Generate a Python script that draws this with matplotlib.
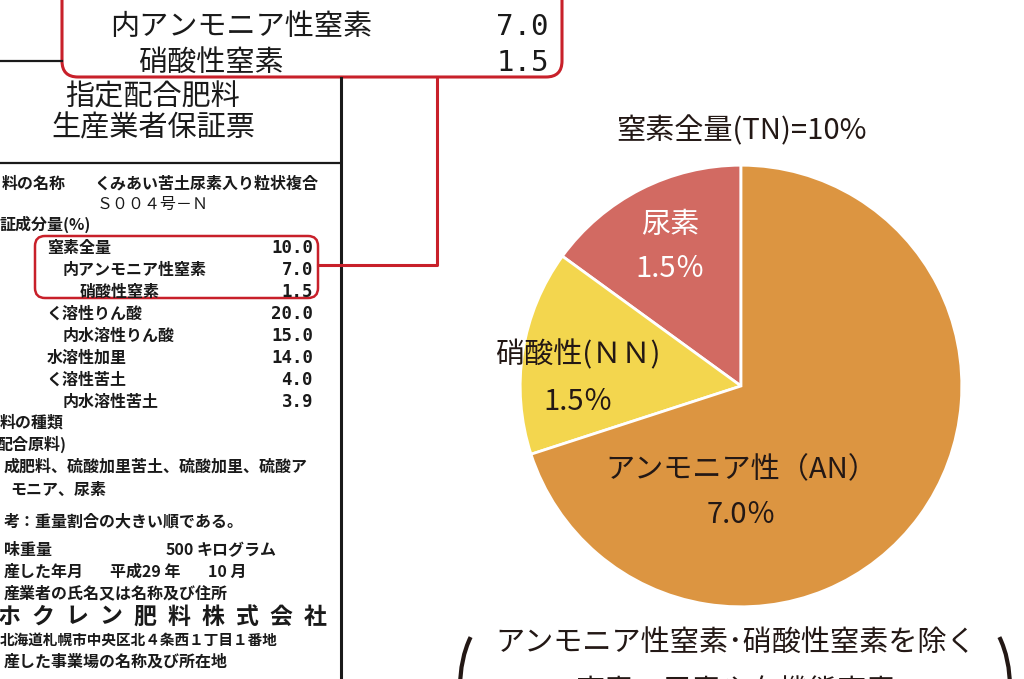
import matplotlib
matplotlib.use("Agg")
import matplotlib.pyplot as plt
from matplotlib.patches import FancyBboxPatch, Arc

plt.rcParams['font.family'] = ['Noto Sans CJK JP', 'DejaVu Sans']

# pie data (nitrogen forms, % of product)
pie_labels = ["尿素", "硝酸性(ＮＮ)", "アンモニア性（AN）"]
pie_values = [1.5, 1.5, 7.0]
pie_colors = ["#D26A62", "#F3D64E", "#DC9541"]
total_n = 10

# guarantee table (scanned document on the left)
nutrient_names = ["窒素全量", "内アンモニア性窒素", "硝酸性窒素", "く溶性りん酸",
                  "内水溶性りん酸", "水溶性加里", "く溶性苦土", "内水溶性苦土"]
nutrient_values = [10.0, 7.0, 1.5, 20.0, 15.0, 14.0, 4.0, 3.9]
nutrient_indent = [47, 63, 80, 47, 63, 47, 47, 63]

company = "ホクレン肥料株式会社"

RED = "#C8202A"
INK = "#231815"
DOC = "#1a1a1a"
MONO = "DejaVu Sans Mono"

fig = plt.figure(figsize=(10.24, 6.79), dpi=100)
ax = fig.add_axes([0, 0, 1, 1])
ax.set_xlim(0, 1024)
ax.set_ylim(679, 0)
ax.axis("off")

# ---- scanned document ----
ax.plot([0, 62], [61, 61], color=DOC, lw=1.6)
ax.plot([341, 341], [78, 679], color=DOC, lw=2.2)
ax.plot([0, 341], [163, 163], color=DOC, lw=1.6)

ax.text(153, 97, "指定配合肥料", fontsize=21, ha="center", va="center", color=DOC)
ax.text(153, 128, "生産業者保証票", fontsize=21, ha="center", va="center", color=DOC)

fs = 11.5
kw = dict(fontsize=fs, va="center", color=DOC, fontweight="bold")
ax.text(2, 184, "料の名称", **kw)
ax.text(95, 184, "くみあい苦土尿素入り粒状複合", **kw)
ax.text(97, 204, "Ｓ００４号－Ｎ", fontsize=fs, va="center", color=DOC)
ax.text(0, 224, "証成分量(%)", **kw)

row_y = 248
for name, val, x in zip(nutrient_names, nutrient_values, nutrient_indent):
    ax.text(x, row_y, name, **kw)
    ax.text(313, row_y, f"{val:.1f}", fontsize=12.5, va="center", ha="right",
            color=DOC, family=MONO, fontweight="bold")
    row_y += 22

ax.text(0, 423, "料の種類", **kw)
ax.text(-4, 444, "配合原料)", **kw)
ax.text(4, 467, "成肥料、硫酸加里苦土、硫酸加里、硫酸ア", **kw)
ax.text(10, 490, "モニア、尿素", **kw)
ax.text(4, 521, "考：重量割合の大きい順である。", **kw)
ax.text(4, 550, "味重量", **kw)
ax.text(166, 550, "500", **kw)
ax.text(197, 550, "キログラム", **kw)
ax.text(4, 572, "産した年月", **kw)
ax.text(110, 572, "平成29 年", **kw)
ax.text(208, 572, "10 月", **kw)
ax.text(4, 593, "産業者の氏名又は名称及び住所", **kw)
for i, ch in enumerate(company):
    ax.text(9 + i * 34, 617, ch, fontsize=16.5, ha="center", va="center",
            color=DOC, fontweight="bold")
ax.text(0, 640, "北海道札幌市中央区北４条西１丁目１番地", fontsize=10.5, va="center",
        color=DOC, fontweight="bold")
ax.text(4, 662, "産した事業場の名称及び所在地", **kw)

# small red frame on the nitrogen rows + leader line
ax.add_patch(FancyBboxPatch((35, 236), 283, 62, boxstyle="round,pad=0,rounding_size=10",
                            fill=False, ec=RED, lw=1.8))
ax.plot([318, 437, 437], [265, 265, 77], color=RED, lw=2.2)

# enlarged red frame at the top
ax.add_patch(FancyBboxPatch((62, -40), 500, 117, boxstyle="round,pad=0,rounding_size=16",
                            fill=False, ec=RED, lw=2.2))
big = 21
for name, val, x, y in zip(nutrient_names[:3], nutrient_values[:3], [112, 110, 138], [-13, 27, 63]):
    ax.text(x, y, name, fontsize=big, va="center", color=DOC)
    ax.text(549, y, f"{val:.1f}", fontsize=21, va="center", ha="right", color=DOC, family=MONO)

# ---- pie chart ----
cx, cy, half = 741, 386, 276
ax_pie = fig.add_axes([(cx - half) / 1024, (679 - cy - half) / 679, 2 * half / 1024, 2 * half / 679])
ax_pie.pie(pie_values, colors=pie_colors, startangle=90, counterclock=True,
           wedgeprops=dict(edgecolor="white", linewidth=2))
ax_pie.set_xlim(-1.25, 1.25)
ax_pie.set_ylim(-1.25, 1.25)
ax_pie.set_aspect("equal")
ax_pie.patch.set_alpha(0)
ax_pie.axis("off")

lfs = 21
tkw = dict(fontsize=lfs, ha="center", va="center", transform=ax.transData)
ax.text(741, 131, f"窒素全量(TN)={total_n}%", fontsize=lfs, ha="center", va="center", color=INK)
ax_pie.text(670, 225, pie_labels[0], color="white", **tkw)
ax_pie.text(670, 269, f"{pie_values[0]:.1f}％", color="white", **tkw)
ax_pie.text(578, 355, pie_labels[1], color=INK, **tkw)
ax_pie.text(578, 402, f"{pie_values[1]:.1f}％", color=INK, **tkw)
ax_pie.text(741, 470, pie_labels[2], color=INK, **tkw)
ax_pie.text(741, 515, f"{pie_values[2]:.1f}％", color=INK, **tkw)

# footnote in big brackets (cut off at the bottom)
ax.text(736, 643, "アンモニア性窒素･硝酸性窒素を除く", fontsize=lfs, ha="center", va="center", color=INK)
ax.text(735, 692, "窒素＝尿素や有機態窒素", fontsize=lfs, ha="center", va="center", color=INK)
ax.add_patch(Arc((500, 688), 80, 150, theta1=120, theta2=240, color=INK, lw=3))
ax.add_patch(Arc((970, 688), 80, 150, theta1=-60, theta2=60, color=INK, lw=3))

fig.savefig("out.png", dpi=100)
